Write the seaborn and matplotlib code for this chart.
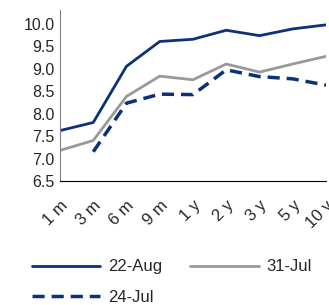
import numpy as np
import pandas as pd
import matplotlib
matplotlib.use("Agg")
from matplotlib import pyplot as plt
import seaborn as sns

tenors = ["1 m", "3 m", "6 m", "9 m", "1 y", "2 y", "3 y", "5 y", "10 y"]
aug22 = [7.62, 7.80, 9.05, 9.60, 9.65, 9.85, 9.73, 9.88, 9.97]
jul31 = [7.18, 7.40, 8.38, 8.83, 8.75, 9.10, 8.92, 9.10, 9.27]
jul24 = [np.nan, 7.15, 8.23, 8.43, 8.42, 8.97, 8.82, 8.77, 8.63]

sns.set_style("white")
plt.rcParams["font.family"] = ["Liberation Sans", "DejaVu Sans"]

df = pd.DataFrame({"x": np.arange(len(tenors)), "22-Aug": aug22, "31-Jul": jul31, "24-Jul": jul24})

fig = plt.figure(figsize=(3.29, 3.05), dpi=100)
ax = fig.add_axes([60 / 329, 1 - 181 / 305, 266 / 329, 171 / 305])

navy = "#0a3278"
grey = "#999999"
sns.lineplot(data=df, x="x", y="22-Aug", ax=ax, color=navy, lw=2, label="22-Aug")
sns.lineplot(data=df, x="x", y="31-Jul", ax=ax, color=grey, lw=2, label="31-Jul")
sns.lineplot(data=df, x="x", y="24-Jul", ax=ax, color=navy, lw=2.5, ls=(0, (3.5, 2)), label="24-Jul")

ax.set_xlim(0, 8)
ax.set_ylim(6.5, 10.3)
ax.set_yticks(np.arange(6.5, 10.01, 0.5))
ax.set_yticklabels([f"{v:.1f}" for v in np.arange(6.5, 10.01, 0.5)], fontsize=11.5)
ax.set_xticks(range(len(tenors)))
ax.set_xticklabels(tenors, rotation=45, ha="right", rotation_mode="anchor", fontsize=12)
ax.set_xlabel("")
ax.set_ylabel("")
for s in ["top", "right"]:
    ax.spines[s].set_visible(False)
ax.spines["left"].set_color("#808080")
ax.spines["bottom"].set_color("black")
ax.tick_params(axis="x", direction="out", length=5, width=1, color="black", pad=7)
ax.tick_params(axis="y", direction="out", length=0, pad=4)

# reorder so that matplotlib's column-major fill gives row order 22-Aug, 31-Jul / 24-Jul
h, l = ax.get_legend_handles_labels()
order = [0, 2, 1]
ax.legend([h[i] for i in order], [l[i] for i in order], loc="upper left",
          bbox_to_anchor=(-0.13, -0.42), ncol=2, frameon=False,
          fontsize=12, handlelength=4.1, columnspacing=1.7, handletextpad=0.45,
          labelspacing=0.95, borderaxespad=0)

fig.savefig("out.png", dpi=100)
